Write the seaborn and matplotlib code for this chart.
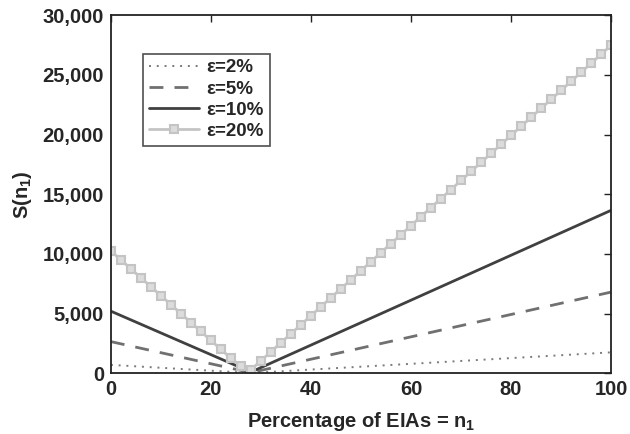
import matplotlib
matplotlib.use("Agg")
import matplotlib.pyplot as plt
import seaborn as sns

# データ（図から読み取った推定値）
x_vertex = [0, 28, 100]
s_eps2 = [700, 20, 1750]
s_eps5 = [2650, 50, 6800]
s_eps10 = [5200, 100, 13650]

x_eps20 = list(range(0, 101, 2))
s_eps20 = [10250, 9500, 8750, 8000, 7250, 6500, 5750, 5000, 4250, 3500,
           2750, 2000, 1250, 600, 300, 1050, 1805, 2560, 3315, 4070,
           4825, 5580, 6335, 7090, 7845, 8600, 9355, 10110, 10865, 11620,
           12375, 13130, 13885, 14640, 15395, 16150, 16905, 17660, 18415, 19170,
           19925, 20680, 21435, 22190, 22945, 23700, 24455, 25210, 25965, 26720,
           27475]

labels = ["ε=2%", "ε=5%", "ε=10%", "ε=20%"]
xticks = [0, 20, 40, 60, 80, 100]
yticks = [0, 5000, 10000, 15000, 20000, 25000, 30000]

FS = 14.5

sns.set_style("white")
plt.rcParams["font.family"] = ["Liberation Sans", "DejaVu Sans"]
plt.rcParams["font.weight"] = "bold"
plt.rcParams["mathtext.fontset"] = "custom"
plt.rcParams["mathtext.rm"] = "Liberation Sans:bold"
plt.rcParams["mathtext.default"] = "rm"

fig = plt.figure(figsize=(6.3, 4.34), dpi=100)
ax = fig.add_axes([0.176, 0.14, 0.794, 0.825])

sns.lineplot(x=x_vertex, y=s_eps2, ax=ax, color="#7a7a7a", lw=1.4,
             linestyle=(0, (1, 3.0)), label=labels[0])
sns.lineplot(x=x_vertex, y=s_eps5, ax=ax, color="#707070", lw=2.0,
             linestyle=(0, (5, 4)), label=labels[1])
sns.lineplot(x=x_vertex, y=s_eps10, ax=ax, color="#404040", lw=2.0,
             label=labels[2])
sns.lineplot(x=x_eps20, y=s_eps20, ax=ax, color="#c4c4c4", lw=2.0,
             marker="s", markersize=5.5, markerfacecolor="#dcdcdc",
             markeredgecolor="#c4c4c4", markeredgewidth=1.5, label=labels[3])

ax.set_xlim(0, 100)
ax.set_ylim(0, 30000)
ax.set_xticks(xticks)
ax.set_yticks(yticks)
ax.set_yticklabels([f"{v:,}" for v in yticks])
ax.tick_params(direction="in", length=5, width=1, labelsize=FS,
               top=True, right=True, color="#222222")
for lab in ax.get_xticklabels() + ax.get_yticklabels():
    lab.set_fontweight("bold")
ax.tick_params(axis="x", pad=5)
ax.tick_params(axis="y", pad=5)

for sp in ax.spines.values():
    sp.set_visible(True)
    sp.set_color("#222222")
    sp.set_linewidth(1.3)

ax.set_xlabel("Percentage of EIAs = n$_{1}$", fontsize=FS, fontweight="bold", labelpad=8)
ax.set_ylabel("S(n$_{1}$)", fontsize=FS, fontweight="bold", labelpad=6)

leg = ax.legend(loc="upper left", bbox_to_anchor=(0.064, 0.893), frameon=True,
                fancybox=False, edgecolor="#222222", fontsize=13.5,
                handlelength=2.7, borderpad=0.3, labelspacing=0.22,
                handletextpad=0.4, borderaxespad=0)
leg.get_frame().set_linewidth(1.2)
for t in leg.get_texts():
    t.set_fontweight("bold")

fig.savefig("out.png", dpi=100)
plt.close(fig)
